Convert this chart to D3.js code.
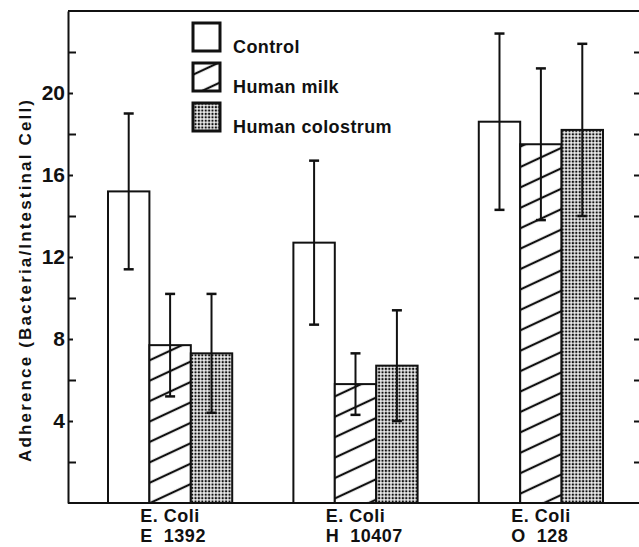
<!DOCTYPE html>
<html>
<head>
<meta charset="utf-8">
<script src="https://cdn.jsdelivr.net/npm/d3@7"></script>
<style>
  html, body { margin: 0; padding: 0; background: #fff; }
  svg { display: block; }
  text { font-family: "Liberation Sans", Arial, Helvetica, sans-serif; font-weight: bold; fill: #111; }
</style>
</head>
<body>
<svg id="chart" width="639" height="547"></svg>
<script>
// ---- data ----
const strainLine1 = ["E. Coli", "E. Coli", "E. Coli"];
const strainLine2 = ["E  1392", "H  10407", "O  128"];
const seriesNames = ["Control", "Human milk", "Human colostrum"];
const controlValues   = [15.2, 12.7, 18.6];
const controlErrors   = [3.8, 4.0, 4.3];
const milkValues      = [7.7, 5.8, 17.5];
const milkErrors      = [2.5, 1.5, 3.7];
const colostrumValues = [7.3, 6.7, 18.2];
const colostrumErrors = [2.9, 2.7, 4.2];
const yLabelTicks = [4, 8, 12, 16, 20];
const yMinorTicks = [2, 6, 10, 14, 18, 22];
const yRightTicks = [2, 4, 6, 8, 10, 12, 14, 16, 18, 20, 22];
const yAxisTitle = "Adherence (Bacteria/Intestinal Cell)";

const seriesValues = [controlValues, milkValues, colostrumValues];
const seriesErrors = [controlErrors, milkErrors, colostrumErrors];
const groups = strainLine2;

const svg = d3.select("#chart");
const ink = "#111";

// patterns
const defs = svg.append("defs");
const hatch = defs.append("pattern")
  .attr("id", "hatch").attr("patternUnits", "userSpaceOnUse")
  .attr("width", 18).attr("height", 18.5)
  .attr("patternTransform", "translate(150,503) rotate(-25)");
hatch.append("rect").attr("width", 18).attr("height", 18.5).attr("fill", "#fff");
hatch.append("line").attr("x1", -2).attr("x2", 20).attr("y1", 0).attr("y2", 0)
  .attr("stroke", ink).attr("stroke-width", 2.2);
hatch.append("line").attr("x1", -2).attr("x2", 20).attr("y1", 18.5).attr("y2", 18.5)
  .attr("stroke", ink).attr("stroke-width", 2.2);

const dots = defs.append("pattern")
  .attr("id", "dots").attr("patternUnits", "userSpaceOnUse")
  .attr("width", 3.4).attr("height", 3.4);
dots.append("rect").attr("width", 3.4).attr("height", 3.4).attr("fill", "#fff");
dots.append("rect").attr("x", 0.6).attr("y", 0.6).attr("width", 2.2).attr("height", 2.2).attr("fill", ink);

const fills = ["#fff", "url(#hatch)", "url(#dots)"];

// scales
const y = d3.scaleLinear().domain([0, 24]).range([503, 11]);
const x0 = d3.scaleBand().domain(groups).range([108, 603]).paddingInner(0.33).paddingOuter(0);
const x1 = d3.scaleBand().domain(seriesNames).range([0, x0.bandwidth()]).padding(0);

const leftX = 68, rightX = 640;

// frame lines
svg.append("line").attr("x1", leftX).attr("x2", 639).attr("y1", y(24)).attr("y2", y(24))
  .attr("stroke", ink).attr("stroke-width", 2);
svg.append("line").attr("x1", leftX).attr("x2", 639).attr("y1", y(0)).attr("y2", y(0))
  .attr("stroke", ink).attr("stroke-width", 2);

// bars
const gBars = svg.append("g");
groups.forEach((grp, gi) => {
  seriesNames.forEach((s, si) => {
    const v = seriesValues[si][gi];
    const bx = x0(grp) + x1(s);
    gBars.append("rect")
      .attr("x", bx).attr("y", y(v))
      .attr("width", x1.bandwidth()).attr("height", y(0) - y(v))
      .attr("fill", fills[si]).attr("stroke", ink).attr("stroke-width", 2);
  });
});
// error bars
groups.forEach((grp, gi) => {
  seriesNames.forEach((s, si) => {
    const v = seriesValues[si][gi], e = seriesErrors[si][gi];
    const cx = x0(grp) + x1(s) + x1.bandwidth() / 2;
    gBars.append("line").attr("x1", cx).attr("x2", cx).attr("y1", y(v + e)).attr("y2", y(v - e))
      .attr("stroke", ink).attr("stroke-width", 2);
    [v + e, v - e].forEach(t => {
      gBars.append("line").attr("x1", cx - 5).attr("x2", cx + 5).attr("y1", y(t)).attr("y2", y(t))
        .attr("stroke", ink).attr("stroke-width", 2.5);
    });
  });
});

// left axis with labels
const axL = svg.append("g").attr("transform", `translate(${leftX},0)`)
  .call(d3.axisLeft(y).tickValues(yLabelTicks).tickSizeInner(-5).tickSizeOuter(0).tickPadding(3).tickFormat(d3.format("d")));
axL.attr("font-size", null).attr("font-family", null);
axL.select(".domain").attr("stroke", ink).attr("stroke-width", 2);
axL.selectAll(".tick line").attr("stroke", ink).attr("stroke-width", 2);
axL.selectAll(".tick text").style("font-size", "21px").attr("fill", ink);

const axLm = svg.append("g").attr("transform", `translate(${leftX},0)`)
  .call(d3.axisLeft(y).tickValues(yMinorTicks).tickSizeInner(-8).tickSizeOuter(0).tickFormat(""));
axLm.select(".domain").remove();
axLm.selectAll(".tick line").attr("stroke", ink).attr("stroke-width", 2);

const axR = svg.append("g").attr("transform", `translate(${rightX},0)`)
  .call(d3.axisRight(y).tickValues(yRightTicks).tickSizeInner(-6).tickSizeOuter(0).tickFormat(""));
axR.select(".domain").remove();
axR.selectAll(".tick line").attr("stroke", ink).attr("stroke-width", 2);

// y title
svg.append("text")
  .attr("transform", "translate(25,281) rotate(-90)")
  .attr("text-anchor", "middle").attr("dominant-baseline", "central")
  .style("font-size", "17px")
  .attr("textLength", 362).attr("lengthAdjust", "spacing")
  .text(yAxisTitle);

// x labels
groups.forEach((grp, gi) => {
  const cx = x0(grp) + x0.bandwidth() / 2;
  const t1 = svg.append("text").attr("x", cx).attr("y", 522).attr("text-anchor", "middle")
    .style("font-size", "18px").attr("letter-spacing", 0.5).text(strainLine1[gi]);
  const w = t1.node().getComputedTextLength();
  svg.append("text").attr("x", cx - w / 2).attr("y", 542).attr("text-anchor", "start")
    .style("font-size", "18px").attr("letter-spacing", 0.5).style("white-space", "pre").text(strainLine2[gi]);
});

// legend
const legend = svg.append("g");
seriesNames.forEach((s, si) => {
  const ly = 23 + si * 40;
  legend.append("rect").attr("x", 193).attr("y", ly).attr("width", 27).attr("height", 28)
    .attr("fill", fills[si]).attr("stroke", ink).attr("stroke-width", 3);
  legend.append("text").attr("x", 233).attr("y", ly + 30).style("font-size", "18px")
    .attr("letter-spacing", 0.4).text(s);
});
</script>
</body>
</html>
